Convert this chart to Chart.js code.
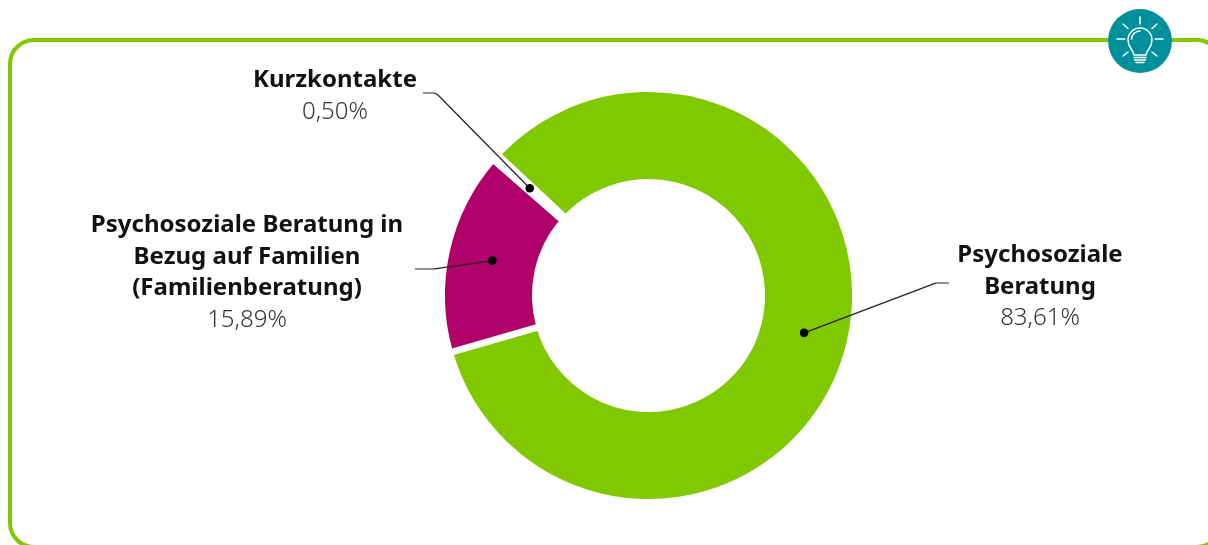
<!DOCTYPE html>
<html lang="de">
<head>
<meta charset="utf-8">
<title>Psychosoziale Beratung</title>
<script src="https://cdn.jsdelivr.net/npm/chart.js@4"></script>
<style>
    html, body { margin: 0; padding: 0; background: #fff; overflow: hidden; }
    #wrap { position: relative; width: 1208px; height: 545px; overflow: hidden; }
    #card { position: absolute; left: 8px; top: 38px; width: 1207px; height: 503px; border: 4px solid #80c900; border-radius: 26px; }
    #icon { position: absolute; left: 1108px; top: 9px; }
    canvas { position: absolute; left: 0; top: 0; }
</style>
</head>
<body>
<div id="wrap">
    <div id="card"></div>
    <canvas id="chart" width="1208" height="545"></canvas>
    <svg id="icon" width="64" height="64" viewBox="0 0 64 64">
        <circle cx="32" cy="32" r="32" fill="#00909b"/>
        <g fill="none" stroke="#fff" stroke-width="1.5" stroke-linecap="round">
            <path d="M26 46 C25 40 20 39 20 31 A12 12 0 1 1 44 31 C44 39 39 40 38 46 Z"/>
            <path d="M23.5 30 A8.5 8.5 0 0 1 32 22"/>
            <path d="M26 48.5 H38 M26.5 51 H37.5 M28 53.5 H36"/>
            <path d="M32 8 V15 M15 15 L20 19.5 M49 15 L44 19.5 M9 30 H17 M47 30 H55 M15 47 L20 43 M49 47 L44 43"/>
        </g>
    </svg>
</div>
<script>
var labels = ['Psychosoziale Beratung', 'Psychosoziale Beratung in Bezug auf Familien (Familienberatung)', 'Kurzkontakte'];
var values = [83.61, 15.89, 0.50];
var valueLabels = ['83,61%', '15,89%', '0,50%'];
var colors = ['#80c900', '#b0006a', '#ffffff'];

// Beschriftung pro Segment: Zeilen, Mittelachse, erste Grundlinie, Knick der Linie
var callouts = [
    { lines: ['Psychosoziale', 'Beratung'], x: 1040, y: 262, start: [949, 283], elbow: [936, 283] },
    { lines: ['Psychosoziale Beratung in', 'Bezug auf Familien', '(Familienberatung)'], x: 247, y: 232, start: [415, 269], elbow: [434, 269] },
    { lines: ['Kurzkontakte'], x: 335, y: 87, start: [423, 93], elbow: [436, 93] }
];

var LINE_HEIGHT = 31.5;

// Zeichnet Linien, Punkte und Texte direkt nach den Segmenten
var calloutPlugin = {
    id: 'callouts',
    afterDatasetsDraw: function (chart) {
        var ctx = chart.ctx;
        var arcs = chart.getDatasetMeta(0).data;
        ctx.save();
        arcs.forEach(function (arc, i) {
            var c = callouts[i];
            var p = arc.getCenterPoint();

            ctx.strokeStyle = '#222';
            ctx.lineWidth = 1.2;
            ctx.beginPath();
            ctx.moveTo(c.start[0], c.start[1]);
            ctx.arcTo(c.elbow[0], c.elbow[1], p.x, p.y, 6);
            ctx.lineTo(p.x, p.y);
            ctx.stroke();

            ctx.fillStyle = '#000';
            ctx.beginPath();
            ctx.arc(p.x, p.y, 4.3, 0, Math.PI * 2);
            ctx.fill();

            ctx.textAlign = 'center';
            ctx.textBaseline = 'alphabetic';
            ctx.fillStyle = '#111';
            ctx.font = '700 24px "Noto Sans"';
            c.lines.forEach(function (line, n) {
                ctx.fillText(line, c.x, c.y + n * LINE_HEIGHT);
            });
            ctx.fillStyle = '#333';
            ctx.font = '300 24px "Noto Sans"';
            ctx.fillText(valueLabels[i], c.x, c.y + c.lines.length * LINE_HEIGHT);
        });
        ctx.restore();
    }
};

new Chart(document.getElementById('chart'), {
    type: 'doughnut',
    data: {
        labels: labels,
        datasets: [{
            data: values,
            backgroundColor: colors,
            // weisser Rand ergibt die parallelen Spalte zwischen den Segmenten
            borderColor: '#ffffff',
            borderWidth: 6.5,
            borderJoinStyle: 'miter'
        }]
    },
    options: {
        responsive: false,
        animation: false,
        rotation: 313,
        cutout: '54.8%',
        layout: { padding: { left: 438.5, right: 349.5, top: 85.5, bottom: 39.5 } },
        plugins: {
            legend: { display: false },
            tooltip: { enabled: false }
        }
    },
    plugins: [calloutPlugin]
});
</script>
</body>
</html>
